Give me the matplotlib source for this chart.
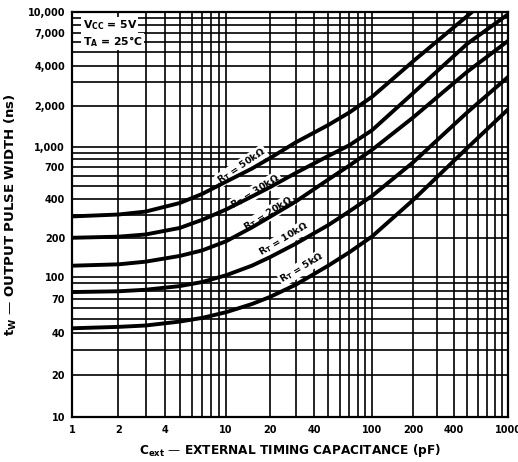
import numpy as np
import matplotlib.pyplot as plt

plt.rcParams['font.family'] = ['DejaVu Sans']
plt.rcParams['font.weight'] = 'bold'
plt.rcParams['mathtext.default'] = 'bf'

# values (Cext in pF, tw in ns)
cext = [1, 2, 3, 5, 7, 10, 15, 20, 30, 50, 70, 100, 200, 500, 1000]
tw_5k = [43, 44, 45, 48, 51, 56, 64, 72, 88, 122, 155, 205, 390, 980, 1900]
tw_10k = [78, 79, 81, 86, 92, 103, 122, 142, 180, 250, 320, 420, 760, 1800, 3300]
tw_20k = [122, 125, 131, 145, 160, 188, 240, 290, 380, 560, 720, 950, 1650, 3600, 6100]
tw_30k = [200, 204, 212, 238, 275, 330, 415, 490, 630, 850, 1030, 1330, 2500, 5800, 9600]
tw_50k = [292, 302, 318, 370, 435, 540, 680, 820, 1080, 1450, 1800, 2350, 4300, 9300, 17000]

curves = [tw_5k, tw_10k, tw_20k, tw_30k, tw_50k]
rt_labels = ['5k', '10k', '20k', '30k', '50k']
# where each R_T label sits (Cext, tw) and its slant
label_pos = [(33, 117), (25, 195), (19.5, 305), (16, 455), (12.8, 715)]
label_rot = [31, 31, 32, 32, 34]

xticks = [1, 2, 4, 10, 20, 40, 100, 200, 400, 1000]
xticklabels = ['1', '2', '4', '10', '20', '40', '100', '200', '400', '1000']
yticks = [10, 20, 40, 70, 100, 200, 400, 700, 1000, 2000, 4000, 7000, 10000]
yticklabels = ['10', '20', '40', '70', '100', '200', '400', '700',
               '1,000', '2,000', '4,000', '7,000', '10,000']

grid_x = [m * 10**e for e in range(0, 3) for m in range(1, 10)] + [1000]
grid_y = [m * 10**e for e in range(1, 4) for m in range(1, 10)] + [10000]

# the printed chart's decades are not all the same length;
# decade -> relative position along each axis
x_dec = [0, 1, 2, 3]
x_len = [0, 154, 300, 436]
y_dec = [1, 2, 3, 4]
y_len = [0, 140, 270, 405]


def warped_log(dec, length):
    k = np.array(dec, float)
    p = k[0] + np.array(length, float) / length[-1] * (k[-1] - k[0])

    def ext(u, a, b):
        out = np.interp(u, a, b)
        lo = b[0] + (u - a[0]) * (b[1] - b[0]) / (a[1] - a[0])
        hi = b[-1] + (u - a[-1]) * (b[-1] - b[-2]) / (a[-1] - a[-2])
        return np.where(u < a[0], lo, np.where(u > a[-1], hi, out))

    def fwd(v):
        v = np.asarray(v, float)
        return ext(np.log10(np.clip(v, 1e-12, None)), k, p)

    def inv(w):
        return 10 ** ext(np.asarray(w, float), p, k)

    return fwd, inv


fig = plt.figure(figsize=(5.18, 4.62), dpi=100)
ax = fig.add_axes([0.139, 0.0974, 0.842, 0.877])
ax.set_xscale('function', functions=warped_log(x_dec, x_len))
ax.set_yscale('function', functions=warped_log(y_dec, y_len))
ax.set_xlim(1, 1000)
ax.set_ylim(10, 10000)

ax.set_xticks(grid_x, minor=True)
ax.set_yticks(grid_y, minor=True)
ax.set_xticks(xticks)
ax.set_xticklabels(xticklabels)
ax.set_yticks(yticks)
ax.set_yticklabels(yticklabels)
ax.xaxis.set_minor_formatter(plt.NullFormatter())
ax.yaxis.set_minor_formatter(plt.NullFormatter())
ax.tick_params(which='both', length=0, labelsize=7)
ax.tick_params(axis='x', pad=6)
ax.tick_params(axis='y', pad=5)
ax.grid(which='both', color='black', lw=1.2)
ax.set_axisbelow(True)
for s in ax.spines.values():
    s.set_linewidth(1.6)

for tw in curves:
    ax.plot(cext, tw, color='black', lw=2.8, solid_capstyle='butt', zorder=4)

for lab, (cx, ty), rot in zip(rt_labels, label_pos, label_rot):
    ax.text(cx, ty, r'R$_T$ = ' + lab + '\u03a9', fontsize=6.8, rotation=rot,
            ha='center', va='center', rotation_mode='anchor', zorder=3,
            bbox=dict(facecolor='white', edgecolor='none', pad=0.6))

ax.text(1.17, 8000, r'V$_{CC}$ = 5V', fontsize=7.8, va='center', ha='left', zorder=3,
        bbox=dict(facecolor='white', edgecolor='none', pad=0.8))
ax.text(1.17, 6000, r'T$_A$ = 25°C', fontsize=7.8, va='center', ha='left', zorder=3,
        bbox=dict(facecolor='white', edgecolor='none', pad=0.8))

ax.set_xlabel(r'C$_{ext}$ — EXTERNAL TIMING CAPACITANCE (pF)', fontsize=8.7,
              fontweight='bold', labelpad=5)
ax.set_ylabel(r't$_W$ — OUTPUT PULSE WIDTH (ns)', fontsize=9.5,
              fontweight='bold', labelpad=6)

fig.savefig('out.png', dpi=100)
